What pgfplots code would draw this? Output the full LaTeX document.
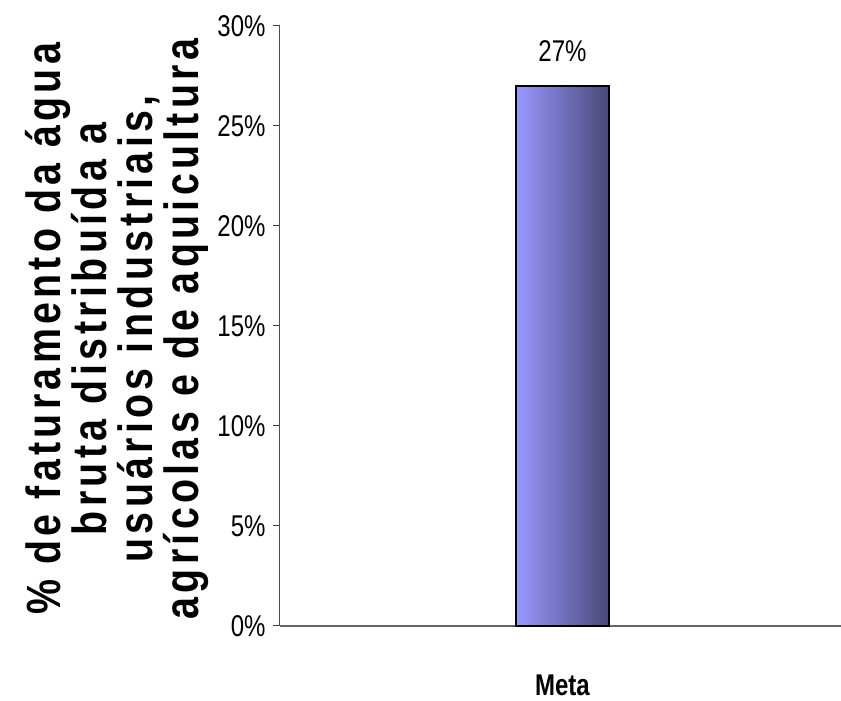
\documentclass[border=0pt]{standalone}
\usepackage{fontspec}
\setmainfont{Liberation Sans}[FakeStretch=0.8]
\newfontfamily\labfont{Liberation Sans}[FakeStretch=0.82, LetterSpace=9]
\usepackage{pgfplots}
\pgfplotsset{compat=1.18}
\definecolor{barL}{RGB}{153,153,255}
\definecolor{barR}{RGB}{72,72,120}
\begin{document}
\begin{tikzpicture}
\begin{axis}[
  scale only axis, width=561pt, height=600pt,
  at={(0,0)}, anchor=south west,
  xmin=-1.007, xmax=0.993,
  ymin=0, ymax=30,
  ytick={0,5,...,30},
  yticklabel={\pgfmathprintnumber{\tick}\%},
  /pgf/number format/assume math mode=true,
  xtick={0}, xticklabels={\bfseries Meta},
  x tick style={draw=none},
  xticklabel style={inner sep=1pt, yshift=-41pt},
  yticklabel style={xshift=-4pt},
  axis lines=left,
  x axis line style={-, black!60, line width=1.4pt},
  y axis line style={-, black!70, line width=1pt},
  y tick style={black!75, line width=1pt},
  tick align=outside, major tick length=7pt,
  ticklabel style={font=\fontsize{30}{32}\selectfont},
  ylabel={\% de faturamento da água\\ bruta distribuída a\\ usuários industriais,\\ agrícolas e de aquicultura},
  ylabel style={at={(axis description cs:-0.2914,0.495)}, anchor=center, align=center, font=\labfont\bfseries\fontsize{48}{46}\selectfont},
  clip=false,
  nodes near coords={\pgfmathprintnumber{\pgfplotspointmeta}\%},
  nodes near coords style={font=\fontsize{30}{32}\selectfont, yshift=20pt},
]
\addplot[ybar, bar width=93.5pt, draw=black, line width=2pt, left color=barL, right color=barR]
  coordinates {(0,27)};
\end{axis}
\pgfresetboundingbox
\useasboundingbox (-280pt,-75pt) rectangle (561pt,626pt);
\end{tikzpicture}
\end{document}
